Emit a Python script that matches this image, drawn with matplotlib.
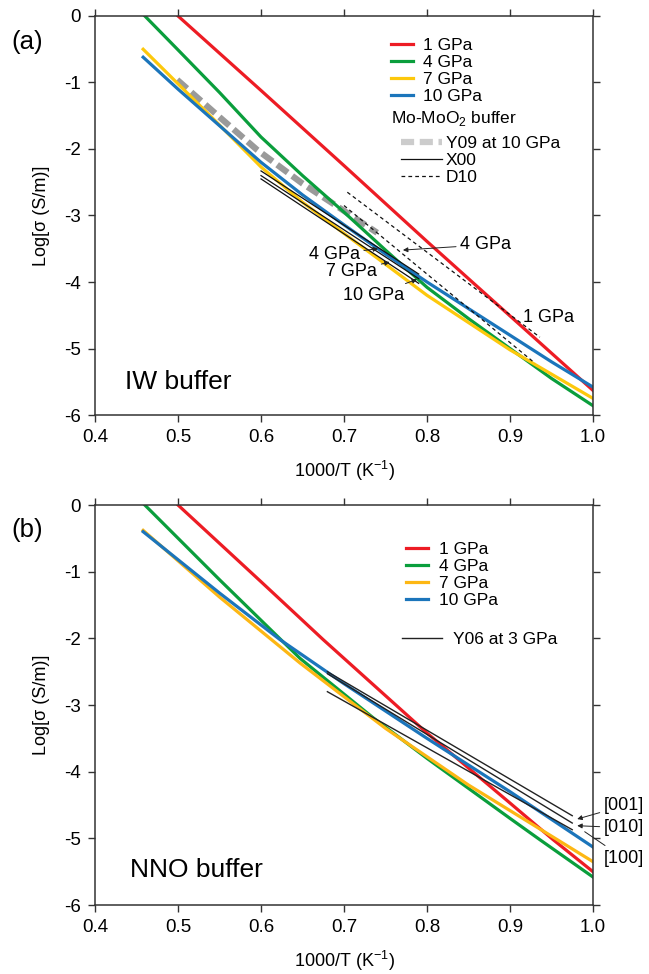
import matplotlib
matplotlib.use('Agg')
import matplotlib.pyplot as plt
from matplotlib.lines import Line2D

plt.rcParams['font.family'] = ['Liberation Sans', 'DejaVu Sans']
plt.rcParams['axes.unicode_minus'] = False
plt.rcParams['mathtext.fontset'] = 'custom'
plt.rcParams['mathtext.rm'] = 'Liberation Sans'

# ---- (a) IW buffer: conductivity curves, log sigma vs 1000/T
iw_1gpa_x = [0.50, 0.55, 0.60, 0.70, 0.80, 0.90, 1.00]
iw_1gpa_y = [0.00, -0.56, -1.12, -2.25, -3.39, -4.51, -5.63]
iw_4gpa_x = [0.46, 0.50, 0.55, 0.60, 0.65, 0.70, 0.75, 0.80, 0.85, 0.90, 0.95, 1.00]
iw_4gpa_y = [0.00, -0.51, -1.15, -1.82, -2.40, -2.95, -3.52, -4.08, -4.55, -5.00, -5.45, -5.86]
iw_7gpa_x = [0.458, 0.50, 0.55, 0.60, 0.65, 0.70, 0.74, 0.80, 0.90, 1.00]
iw_7gpa_y = [-0.50, -1.02, -1.64, -2.27, -2.80, -3.27, -3.64, -4.20, -5.02, -5.75]
iw_10gpa_x = [0.458, 0.50, 0.55, 0.60, 0.65, 0.70, 0.75, 0.80, 0.85, 0.90, 0.95, 1.00]
iw_10gpa_y = [-0.62, -1.10, -1.65, -2.20, -2.69, -3.14, -3.58, -4.00, -4.40, -4.80, -5.20, -5.58]

# Mo-MoO2 buffer literature data
y09_x = [0.499, 0.55, 0.595, 0.65, 0.70, 0.74]
y09_y = [-0.96, -1.52, -2.01, -2.52, -2.93, -3.26]
x00_x = [0.60, 0.79]
x00_4gpa_y = [-2.33, -3.88]
x00_7gpa_y = [-2.40, -3.95]
x00_10gpa_y = [-2.45, -4.02]
d10_1gpa_x = [0.704, 0.936]
d10_1gpa_y = [-2.65, -4.83]
d10_4gpa_x = [0.70, 0.93]
d10_4gpa_y = [-2.85, -5.22]

# ---- (b) NNO buffer
nno_1gpa_x = [0.50, 0.60, 0.675, 0.80, 0.90, 0.952, 1.00]
nno_1gpa_y = [0.00, -1.15, -2.02, -3.42, -4.47, -5.02, -5.50]
nno_4gpa_x = [0.46, 0.55, 0.647, 0.735, 0.80, 0.90, 0.936, 1.00]
nno_4gpa_y = [0.00, -1.12, -2.30, -3.19, -3.80, -4.70, -5.02, -5.58]
nno_7gpa_x = [0.458, 0.55, 0.647, 0.75, 0.85, 0.944, 1.00]
nno_7gpa_y = [-0.38, -1.38, -2.37, -3.35, -4.20, -4.92, -5.35]
nno_10gpa_x = [0.458, 0.55, 0.623, 0.70, 0.80, 0.90, 1.00]
nno_10gpa_y = [-0.40, -1.32, -2.02, -2.68, -3.50, -4.30, -5.13]

# Y06 at 3 GPa, three crystal axes
y06_x = [0.68, 0.975]
y06_001_y = [-2.50, -4.66]
y06_010_y = [-2.53, -4.77]
y06_100_y = [-2.80, -4.87]

pressures = ['1 GPa', '4 GPa', '7 GPa', '10 GPa']
red, green, blue = '#ed1c24', '#0a9e3c', '#1b75bb'
yellow_a, yellow_b = '#fdc80c', '#fdb714'
spine_col = '#333333'
LW = 2.3
FS = 12.5


def style_axes(ax):
    ax.set_xlim(0.4, 1.0)
    ax.set_ylim(-6, 0)
    ax.set_xticks([0.4, 0.5, 0.6, 0.7, 0.8, 0.9, 1.0])
    ax.set_xticklabels(['0.4', '0.5', '0.6', '0.7', '0.8', '0.9', '1.0'])
    ax.set_yticks([0, -1, -2, -3, -4, -5, -6])
    ax.set_yticklabels(['0', '-1', '-2', '-3', '-4', '-5', '-6'])
    ax.tick_params(direction='out', length=5, width=1, color=spine_col,
                   labelsize=13.5, top=True, right=True, pad=5)
    for s in ax.spines.values():
        s.set_color(spine_col)
        s.set_linewidth(1.1)
    ax.set_xlabel('1000/T (K$^{-1}$)', fontsize=13, labelpad=9)
    ax.set_ylabel('Log[σ (S/m)]', fontsize=13, labelpad=10)


fig = plt.figure(figsize=(6.49, 9.74), dpi=100)
ax1 = fig.add_axes([0.1464, 0.5739, 0.7673, 0.4097])
ax2 = fig.add_axes([0.1464, 0.0708, 0.7673, 0.4107])

# ---------- panel (a)
ax1.plot(y09_x, y09_y, color='#9a9a9a', lw=4.5, dashes=(2.1, 0.9), solid_capstyle='butt')
ax1.plot(iw_1gpa_x, iw_1gpa_y, color=red, lw=LW)
ax1.plot(iw_4gpa_x, iw_4gpa_y, color=green, lw=LW)
ax1.plot(iw_7gpa_x, iw_7gpa_y, color=yellow_a, lw=LW)
ax1.plot(iw_10gpa_x, iw_10gpa_y, color=blue, lw=LW)
for yy in (x00_4gpa_y, x00_7gpa_y, x00_10gpa_y):
    ax1.plot(x00_x, yy, color='#111111', lw=0.9)
ax1.plot(d10_1gpa_x, d10_1gpa_y, color='#111111', lw=0.9, dashes=(3, 2.5))
ax1.plot(d10_4gpa_x, d10_4gpa_y, color='#111111', lw=0.9, dashes=(3, 2.5))

h1 = [Line2D([], [], color=c, lw=LW) for c in (red, green, yellow_a, blue)]
leg1 = ax1.legend(h1, pressures, loc='upper left', bbox_to_anchor=(0.58, 0.962),
                  frameon=False, fontsize=FS, handlelength=1.3, handletextpad=0.55,
                  labelspacing=0.1, borderaxespad=0)
ax1.add_artist(leg1)
ax1.text(0.594, 0.742, 'Mo-MoO$_2$ buffer', transform=ax1.transAxes,
         fontsize=FS, va='center', ha='left')
h2 = [Line2D([], [], color='#cccccc', lw=4.5, dashes=(2.1, 0.9)),
      Line2D([], [], color='#111111', lw=0.9),
      Line2D([], [], color='#111111', lw=0.9, dashes=(3, 2.5))]
ax1.legend(h2, ['Y09 at 10 GPa', 'X00', 'D10'], loc='upper left',
           bbox_to_anchor=(0.6, 0.716), frameon=False, fontsize=FS,
           handlelength=2.4, handletextpad=0.2, labelspacing=0.1, borderaxespad=0)

arrow = dict(arrowstyle='-|>', lw=0.7, color='#222222', mutation_scale=7,
             shrinkA=1, shrinkB=0)
ax1.annotate('4 GPa', xy=(0.741, -3.50), xytext=(0.719, -3.58), ha='right',
             va='center', fontsize=13, arrowprops=arrow)
ax1.annotate('7 GPa', xy=(0.755, -3.70), xytext=(0.740, -3.84), ha='right',
             va='center', fontsize=13, arrowprops=arrow)
ax1.annotate('10 GPa', xy=(0.788, -3.96), xytext=(0.772, -4.20), ha='right',
             va='center', fontsize=13, arrowprops=arrow)
ax1.annotate('4 GPa', xy=(0.771, -3.52), xytext=(0.840, -3.44), ha='left',
             va='center', fontsize=13, arrowprops=arrow)
ax1.text(0.916, -4.54, '1 GPa', ha='left', va='center', fontsize=13)
ax1.text(0.06, 0.083, 'IW buffer', transform=ax1.transAxes, fontsize=19, va='center')
style_axes(ax1)

# ---------- panel (b)
ax2.plot(nno_1gpa_x, nno_1gpa_y, color=red, lw=LW)
ax2.plot(nno_4gpa_x, nno_4gpa_y, color=green, lw=LW)
ax2.plot(nno_7gpa_x, nno_7gpa_y, color=yellow_b, lw=LW)
ax2.plot(nno_10gpa_x, nno_10gpa_y, color=blue, lw=LW)
for yy in (y06_001_y, y06_010_y, y06_100_y):
    ax2.plot(y06_x, yy, color='#222222', lw=1.0)

h3 = [Line2D([], [], color=c, lw=LW) for c in (red, green, yellow_b, blue)]
leg3 = ax2.legend(h3, pressures, loc='upper left', bbox_to_anchor=(0.61, 0.925),
                  frameon=False, fontsize=FS, handlelength=1.3, handletextpad=0.6,
                  labelspacing=0.1, borderaxespad=0)
ax2.add_artist(leg3)
ax2.legend([Line2D([], [], color='#222222', lw=1.0)], ['Y06 at 3 GPa'],
           loc='upper left', bbox_to_anchor=(0.603, 0.70), frameon=False,
           fontsize=FS, handlelength=2.3, handletextpad=0.6, borderaxespad=0)

ax2.annotate('[001]', xy=(0.981, -4.71), xytext=(1.013, -4.51), ha='left',
             va='center', fontsize=13, arrowprops=arrow, annotation_clip=False)
ax2.annotate('[010]', xy=(0.981, -4.81), xytext=(1.013, -4.84), ha='left',
             va='center', fontsize=13, arrowprops=arrow, annotation_clip=False)
ax2.annotate('[100]', xy=(0.99, -4.90), xytext=(1.013, -5.30), ha='left',
             va='center', fontsize=13, annotation_clip=False,
             arrowprops=dict(arrowstyle='-', lw=0.7, color='#222222', shrinkA=2, shrinkB=0))
ax2.text(0.07, 0.0875, 'NNO buffer', transform=ax2.transAxes, fontsize=19, va='center')
style_axes(ax2)

fig.text(0.018, 1 - 42 / 974, '(a)', fontsize=18.5, va='center')
fig.text(0.018, 1 - 530 / 974, '(b)', fontsize=18.5, va='center')

fig.savefig('out.png', dpi=100)
